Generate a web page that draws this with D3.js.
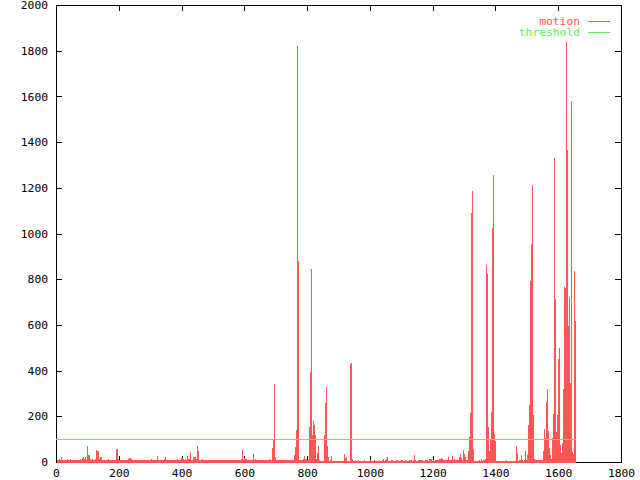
<!DOCTYPE html>
<html><head><meta charset="utf-8">
<script src="https://cdn.jsdelivr.net/npm/d3@7"></script>
<style>html,body{margin:0;padding:0;background:#fff;} svg{display:block;}</style>
</head><body>
<svg id="chart" width="640" height="480"></svg>
<script>
// frames between consecutive samples
const frameStep = 3;
// motion value per sample (sample i is frame i*frameStep)
const motion = [
  8, 10, 9, 12, 10, 23, 9, 8, 10, 8, 9, 8, 14, 10, 9, 13, 9, 8, 10, 9,
  8, 9, 10, 8, 9, 15, 9, 10, 18, 22, 15, 20, 10, 71, 32, 30, 12, 9, 12, 10,
  9, 12, 54, 10, 48, 46, 12, 22, 20, 9, 10, 8, 9, 8, 9, 11, 10, 10, 8, 9,
  8, 9, 10, 9, 58, 58, 12, 10, 8, 9, 8, 10, 9, 8, 9, 10, 12, 14, 19, 18,
  12, 10, 10, 9, 10, 8, 9, 8, 9, 8, 9, 10, 8, 9, 8, 10, 9, 8, 9, 8,
  10, 11, 10, 8, 9, 8, 9, 28, 10, 8, 10, 8, 9, 8, 10, 12, 22, 10, 8, 9,
  8, 9, 8, 9, 8, 9, 8, 10, 10, 11, 10, 8, 9, 19, 18, 12, 9, 13, 10, 28,
  14, 12, 42, 10, 9, 13, 22, 20, 22, 12, 71, 47, 9, 10, 10, 11, 9, 8, 9, 8,
  10, 10, 9, 8, 9, 8, 10, 9, 10, 8, 9, 8, 10, 10, 9, 8, 9, 10, 8, 9,
  8, 10, 9, 10, 8, 10, 8, 9, 8, 9, 8, 10, 9, 8, 9, 10, 12, 54, 31, 10,
  17, 15, 12, 9, 8, 9, 8, 10, 9, 36, 9, 12, 8, 9, 8, 9, 10, 10, 9, 8,
  9, 8, 10, 9, 8, 9, 12, 10, 9, 63, 100, 156, 341, 22, 10, 9, 10, 8, 9, 8,
  9, 10, 8, 10, 9, 8, 10, 9, 8, 9, 10, 9, 10, 31, 67, 140, 1820, 880, 10, 9,
  9, 10, 12, 27, 15, 9, 12, 10, 9, 155, 395, 846, 119, 181, 163, 119, 12, 41, 70, 10,
  6, 4, 3, 4, 3, 119, 260, 330, 70, 24, 6, 7, 27, 6, 5, 6, 5, 6, 4, 5,
  5, 4, 5, 4, 5, 4, 35, 18, 24, 5, 6, 5, 429, 435, 12, 6, 5, 7, 6, 5,
  6, 7, 6, 5, 6, 5, 6, 7, 6, 5, 6, 5, 6, 7, 5, 6, 5, 6, 7, 6,
  6, 5, 6, 7, 6, 5, 7, 12, 6, 7, 13, 22, 7, 6, 5, 6, 7, 10, 6, 5,
  6, 7, 9, 6, 5, 6, 7, 10, 6, 5, 6, 9, 6, 5, 6, 7, 10, 9, 6, 7,
  32, 7, 6, 5, 10, 9, 10, 8, 9, 10, 6, 5, 10, 9, 10, 6, 15, 14, 15, 6,
  7, 6, 5, 7, 10, 10, 9, 15, 12, 19, 12, 7, 10, 9, 10, 8, 22, 10, 9, 7,
  25, 10, 8, 14, 9, 10, 7, 9, 22, 34, 19, 8, 51, 37, 22, 9, 7, 8, 46, 109,
  214, 1089, 1186, 58, 4, 3, 4, 3, 4, 10, 4, 15, 4, 10, 9, 4, 12, 862, 823, 155,
  50, 97, 220, 1025, 1256, 122, 94, 3, 4, 3, 3, 4, 3, 3, 4, 3, 3, 4, 10, 6,
  3, 4, 3, 3, 4, 3, 3, 4, 3, 71, 39, 6, 8, 7, 30, 8, 6, 10, 46, 8,
  30, 163, 250, 792, 955, 1212, 205, 205, 15, 10, 8, 7, 9, 8, 7, 10, 8, 48, 145, 103,
  264, 320, 137, 77, 60, 30, 12, 107, 211, 1330, 714, 133, 207, 451, 497, 74, 41, 82, 318, 764,
  650, 760, 1839, 1365, 595, 723, 345, 1580, 44, 37, 836, 618
];
const thresholdValue = 100;
const xTickValues = [0, 200, 400, 600, 800, 1000, 1200, 1400, 1600, 1800];
const yTickValues = [0, 200, 400, 600, 800, 1000, 1200, 1400, 1600, 1800, 2000];
const seriesNames = ["motion", "threshold"];
const seriesColors = ["#ff5555", "#5eee5e"];

const W = 640, H = 480;
const plotLeft = 56, plotRight = 621, plotTop = 5, plotBottom = 462;
const font = "'DejaVu Sans Mono', monospace";
const fontSize = "11.3px";

const svg = d3.select("#chart");
svg.append("rect").attr("width", W).attr("height", H).attr("fill", "#fff");

const x = d3.scaleLinear().domain([0, 1800]).range([plotLeft, plotRight]);
const y = d3.scaleLinear().domain([0, 2000]).range([plotBottom, plotTop]);

function styleAxis(g) {
  g.select(".domain").remove();
  g.selectAll("line").attr("stroke", "#000").attr("shape-rendering", "crispEdges");
  g.selectAll("text").attr("fill", "#000").style("font-family", font).style("font-size", fontSize);
}

// border
svg.append("rect")
  .attr("x", plotLeft + 0.5).attr("y", plotTop + 0.5)
  .attr("width", plotRight - plotLeft).attr("height", plotBottom - plotTop)
  .attr("fill", "none").attr("stroke", "#000").attr("shape-rendering", "crispEdges");

// axes (ticks inward, mirrored)
svg.append("g").attr("transform", `translate(0,${plotBottom})`)
  .call(d3.axisBottom(x).tickValues(xTickValues).tickSizeInner(-6).tickSizeOuter(0).tickPadding(7).tickFormat(d3.format("d")))
  .call(styleAxis);
svg.append("g").attr("transform", `translate(0,${plotTop})`)
  .call(d3.axisTop(x).tickValues(xTickValues).tickSizeInner(-6).tickSizeOuter(0).tickFormat(""))
  .call(styleAxis);
svg.append("g").attr("transform", `translate(${plotLeft},0)`)
  .call(d3.axisLeft(y).tickValues(yTickValues).tickSizeInner(-6).tickSizeOuter(0).tickPadding(8).tickFormat(d3.format("d")))
  .call(styleAxis);
svg.append("g").attr("transform", `translate(${plotRight},0)`)
  .call(d3.axisRight(y).tickValues(yTickValues).tickSizeInner(-6).tickSizeOuter(0).tickFormat(""))
  .call(styleAxis);

// motion impulses
svg.append("g").selectAll("rect").data(motion).join("rect")
  .attr("x", (d, i) => Math.round(x(i * frameStep)))
  .attr("width", 1)
  .attr("y", d => Math.round(y(d)))
  .attr("height", d => plotBottom + 1 - Math.round(y(d)))
  .attr("fill", seriesColors[0])
  .attr("shape-rendering", "crispEdges");

// left border on top of data
svg.append("line")
  .attr("x1", plotLeft + 0.5).attr("x2", plotLeft + 0.5)
  .attr("y1", plotTop).attr("y2", plotBottom + 1)
  .attr("stroke", "#000").attr("shape-rendering", "crispEdges");

// threshold line
const lastFrame = (motion.length - 1) * frameStep;
const ty = Math.round(y(thresholdValue)) + 0.5;
svg.append("line")
  .attr("x1", Math.round(x(0))).attr("x2", Math.round(x(lastFrame)) + 1)
  .attr("y1", ty).attr("y2", ty)
  .attr("stroke", seriesColors[1]).attr("stroke-width", 1)
  .attr("shape-rendering", "crispEdges");

// legend
const legend = svg.append("g");
seriesNames.forEach((name, k) => {
  const ly = 21.5 + k * 11;
  legend.append("text")
    .attr("x", 580).attr("y", ly).attr("dy", "0.35em")
    .attr("text-anchor", "end")
    .attr("fill", seriesColors[k])
    .style("font-family", font).style("font-size", fontSize)
    .text(name);
  legend.append("line")
    .attr("x1", 588).attr("x2", 610).attr("y1", ly).attr("y2", ly)
    .attr("stroke", seriesColors[k]).attr("shape-rendering", "crispEdges");
});
</script>
</body></html>
